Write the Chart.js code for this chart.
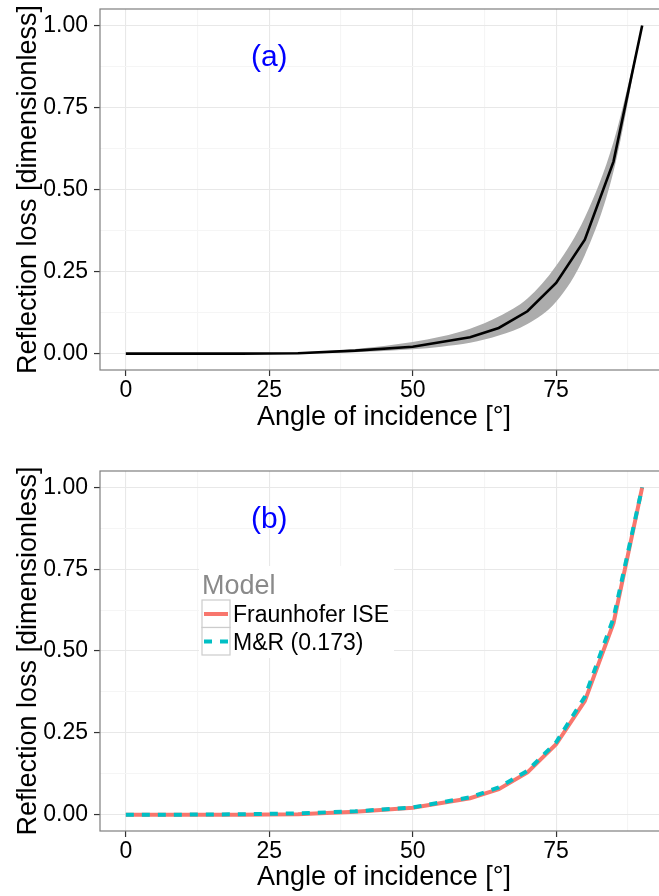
<!DOCTYPE html>
<html>
<head>
<meta charset="utf-8">
<script src="https://cdn.jsdelivr.net/npm/chart.js@4.4.0/dist/chart.umd.min.js"></script>
<style>
  html, body { margin: 0; padding: 0; background: #fff; overflow: hidden; }
  #wrap { position: relative; width: 659px; height: 896px; overflow: hidden; background: #fff; }
  canvas { position: absolute; left: 0; }
</style>
</head>
<body>
<div id="wrap">
  <canvas id="chartA" width="670" height="445" style="top:0px"></canvas>
  <canvas id="chartB" width="670" height="434" style="top:462px"></canvas>
</div>
<script>
// angle of incidence [deg] and reflection loss
const angles = [0, 10, 20, 30, 40, 50, 60, 65, 70, 75, 80, 85, 90];
const fraunhoferLoss = [0, 0, 0, 0.001, 0.009, 0.021, 0.05, 0.078, 0.129, 0.215, 0.347, 0.585, 1.0];
const martinRuizLoss = [0, 0, 0.001, 0.004, 0.01, 0.022, 0.053, 0.083, 0.134, 0.221, 0.36, 0.6, 1.0];

// grey band in panel (a)
const bandAngles = [0, 10, 20, 30, 40, 50, 55, 60, 65, 70, 75, 80, 85, 90];
const bandUpper = [0, 0, 0.001, 0.004, 0.014, 0.035, 0.052, 0.076, 0.113, 0.168, 0.268, 0.415, 0.645, 1.0];
const bandLower = [0, 0, 0, 0.001, 0.004, 0.013, 0.021, 0.033, 0.055, 0.09, 0.158, 0.30, 0.555, 1.0];

const xMajor = [0, 25, 50, 75];
const xMinor = [12.5, 37.5, 62.5, 87.5];
const yMajor = [0, 0.25, 0.5, 0.75, 1];
const yMinor = [0.125, 0.375, 0.625, 0.875];

const legendTitle = 'Model';
const legendLabels = ['Fraunhofer ISE', 'M&R (0.173)'];

const FONT = "'Liberation Sans', Arial, Helvetica, sans-serif";

function points(xs, ys) {
    return xs.map((x, i) => ({ x: x, y: ys[i] }));
}

const panelBox = {
    id: 'panelBox',
    afterDraw(chart) {
        const a = chart.chartArea, ctx = chart.ctx;
        ctx.save();
        ctx.strokeStyle = '#7f7f7f';
        ctx.lineWidth = 1.2;
        ctx.strokeRect(a.left, a.top, a.right - a.left, a.bottom - a.top);
        ctx.restore();
    }
};

const panelLabel = {
    id: 'panelLabel',
    afterDatasetsDraw(chart, args, opts) {
        const ctx = chart.ctx;
        ctx.save();
        ctx.font = '30px ' + FONT;
        ctx.fillStyle = '#0000ff';
        ctx.textAlign = 'center';
        ctx.textBaseline = 'middle';
        ctx.fillText(opts.text, chart.scales.x.getPixelForValue(opts.x), chart.scales.y.getPixelForValue(opts.y));
        ctx.restore();
    }
};

const modelLegend = {
    id: 'modelLegend',
    afterDraw(chart) {
        const ctx = chart.ctx, a = chart.chartArea;
        const left = a.left + 99, top = a.top + 95;
        ctx.save();
        ctx.fillStyle = '#ffffff';
        ctx.fillRect(left, top, 195, 92);

        ctx.font = '27px ' + FONT;
        ctx.fillStyle = '#8a8a8a';
        ctx.textBaseline = 'alphabetic';
        ctx.fillText(legendTitle, left + 3, top + 28);

        legendLabels.forEach((label, i) => {
            const ds = chart.data.datasets.find(d => d.label === label);
            const boxTop = top + 34 + i * 27.5;
            ctx.fillStyle = '#ffffff';
            ctx.fillRect(left + 3, boxTop, 28, 27.5);
            ctx.strokeStyle = '#cccccc';
            ctx.lineWidth = 1.2;
            ctx.setLineDash([]);
            ctx.strokeRect(left + 3, boxTop, 28, 27.5);

            ctx.strokeStyle = ds.borderColor;
            ctx.lineWidth = ds.borderWidth;
            ctx.lineCap = 'butt';
            ctx.setLineDash(ds.borderDash || []);
            ctx.beginPath();
            ctx.moveTo(left + 5, boxTop + 14);
            ctx.lineTo(left + 29, boxTop + 14);
            ctx.stroke();
            ctx.setLineDash([]);

            ctx.font = '23px ' + FONT;
            ctx.fillStyle = '#000000';
            ctx.fillText(label, left + 34, boxTop + 22);
        });
        ctx.restore();
    }
};

function gridColor(minor) {
    return ctx => (ctx.tick && minor.includes(ctx.tick.value)) ? '#f5f5f5' : '#e8e8e8';
}
function tickColor(major) {
    return ctx => (ctx.tick && major.includes(ctx.tick.value)) ? '#333333' : 'rgba(0,0,0,0)';
}

function panelOptions(label, xAxisHeight, xTitlePad) {
    return {
        responsive: false,
        animation: false,
        layout: { padding: { top: 9, right: 2, left: 0, bottom: 0 } },
        plugins: {
            legend: { display: false },
            tooltip: { enabled: false },
            panelLabel: { text: label, x: 25, y: 0.9 }
        },
        elements: { point: { radius: 0 } },
        scales: {
            x: {
                type: 'linear',
                min: -4.5,
                max: 94.5,
                afterBuildTicks: s => { s.ticks = xMajor.concat(xMinor).sort((a, b) => a - b).map(v => ({ value: v })); },
                afterFit: s => { s.height = xAxisHeight; s.paddingLeft = 0; s.paddingRight = 0; },
                ticks: {
                    autoSkip: false,
                    maxRotation: 0,
                    padding: 1,
                    color: '#000',
                    font: { family: FONT, size: 23 },
                    callback: v => xMajor.includes(v) ? String(v) : ''
                },
                grid: { color: gridColor(xMinor), lineWidth: 1.1, tickLength: 6, tickColor: tickColor(xMajor), tickWidth: 1.2 },
                border: { display: false },
                title: {
                    display: true,
                    text: 'Angle of incidence [°]',
                    color: '#000',
                    font: { family: FONT, size: 27 },
                    padding: { top: 0, bottom: xTitlePad }
                }
            },
            y: {
                type: 'linear',
                min: -0.05,
                max: 1.05,
                afterBuildTicks: s => { s.ticks = yMajor.concat(yMinor).sort((a, b) => a - b).map(v => ({ value: v })); },
                afterFit: s => { s.width = 100; s.paddingTop = 0; s.paddingBottom = 0; },
                ticks: {
                    autoSkip: false,
                    padding: 6,
                    color: '#000',
                    font: { family: FONT, size: 23 },
                    callback: v => yMajor.includes(v) ? v.toFixed(2) : ''
                },
                grid: { color: gridColor(yMinor), lineWidth: 1.1, tickLength: 6, tickColor: tickColor(yMajor), tickWidth: 1.2 },
                border: { display: false },
                title: {
                    display: true,
                    text: 'Reflection loss [dimensionless]',
                    color: '#000',
                    font: { family: FONT, size: 27 },
                    padding: { top: 12, bottom: 0 }
                }
            }
        }
    };
}

// panel (a): Fraunhofer ISE with grey band
let chartA = new Chart(document.getElementById('chartA'), {
    type: 'line',
    data: {
        datasets: [
            {
                label: 'Fraunhofer ISE',
                data: points(angles, fraunhoferLoss),
                borderColor: '#000000',
                borderWidth: 2.6,
                fill: false
            },
            {
                label: 'band upper',
                data: points(bandAngles, bandUpper),
                borderColor: 'rgba(0,0,0,0)',
                borderWidth: 0,
                backgroundColor: '#acacac',
                cubicInterpolationMode: 'monotone',
                fill: '+1'
            },
            {
                label: 'band lower',
                data: points(bandAngles, bandLower),
                borderColor: 'rgba(0,0,0,0)',
                borderWidth: 0,
                cubicInterpolationMode: 'monotone',
                fill: false
            }
        ]
    },
    options: panelOptions('(a)', 75, 11),
    plugins: [panelBox, panelLabel]
});

// panel (b): the two models compared
let chartB = new Chart(document.getElementById('chartB'), {
    type: 'line',
    data: {
        datasets: [
            {
                label: 'M&R (0.173)',
                data: points(angles, martinRuizLoss),
                borderColor: '#00bfc4',
                borderWidth: 4,
                borderDash: [8, 8],
                borderCapStyle: 'butt',
                fill: false
            },
            {
                label: 'Fraunhofer ISE',
                data: points(angles, fraunhoferLoss),
                borderColor: '#f8766d',
                borderWidth: 4,
                fill: false
            }
        ]
    },
    options: panelOptions('(b)', 65, 2),
    plugins: [panelBox, panelLabel, modelLegend]
});
</script>
</body>
</html>
